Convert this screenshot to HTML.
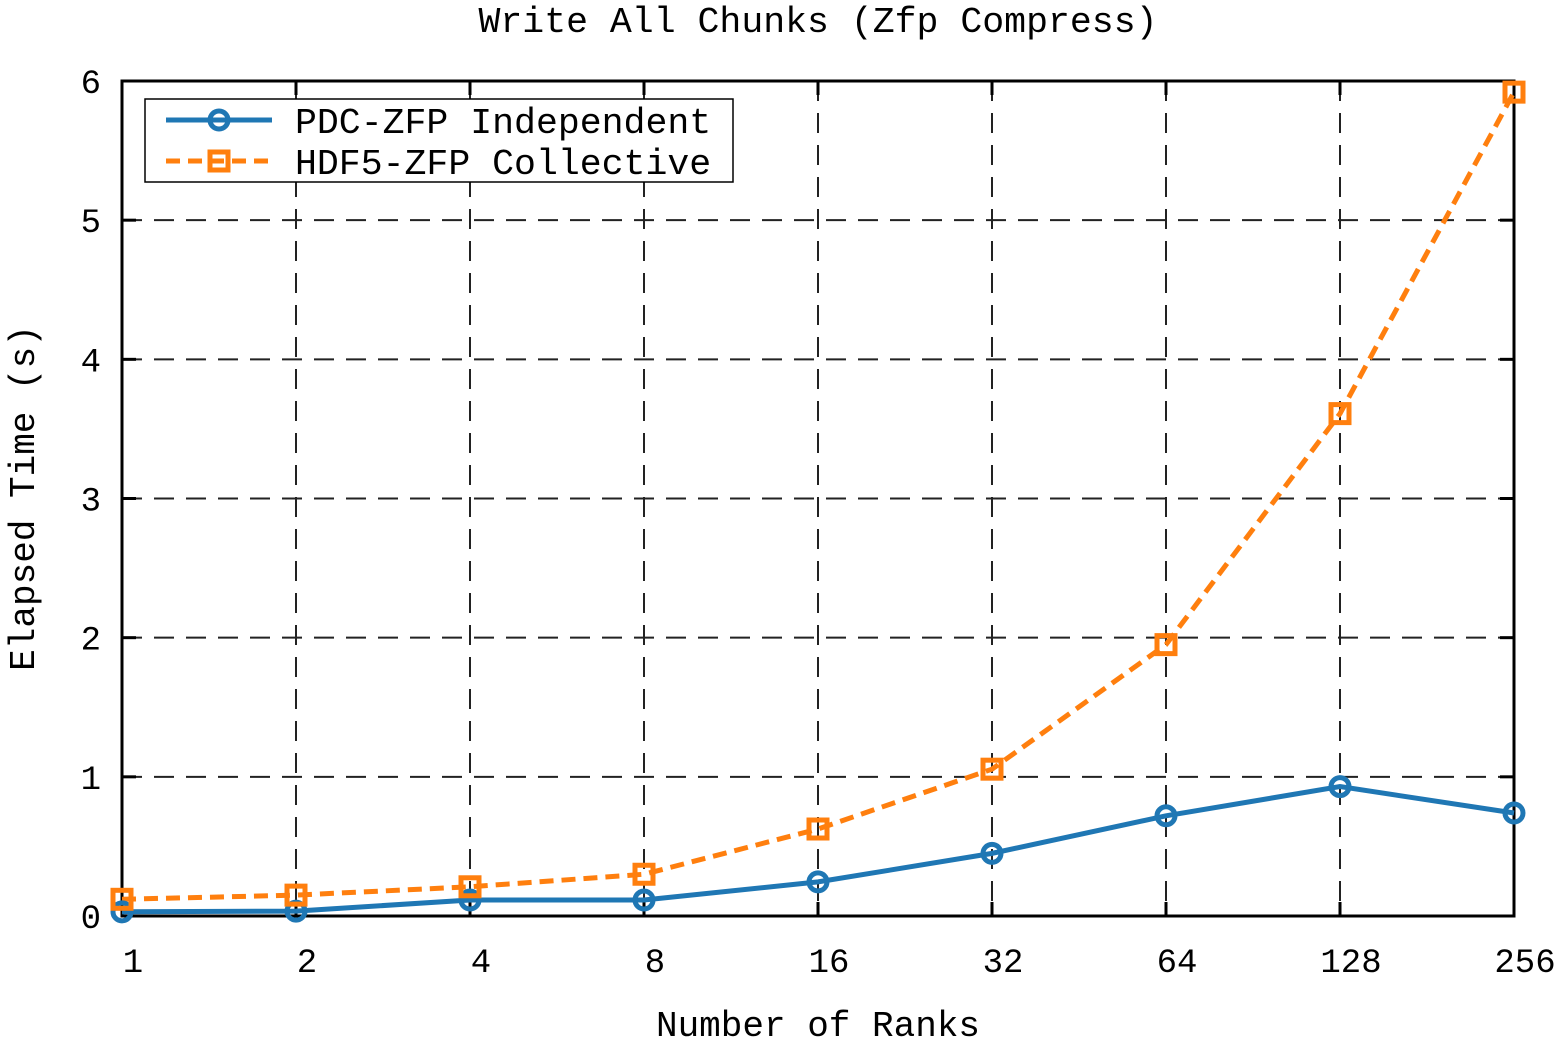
<!DOCTYPE html>
<html><head><meta charset="utf-8"><style>
body{margin:0;background:#fff;}
text{font-family:"Liberation Mono",monospace;fill:#000;}
</style></head><body>
<svg width="1561" height="1040" xmlns="http://www.w3.org/2000/svg">
<g id="grid"></g>
<g id="axes"></g>
<g id="series"></g>
<text x="818" y="32" font-size="36.5" text-anchor="middle">Write All Chunks (Zfp Compress)</text>
<text x="818" y="1036" font-size="36" text-anchor="middle">Number of Ranks</text>
<text transform="translate(34,498) rotate(-90)" font-size="36" text-anchor="middle">Elapsed Time (s)</text>
<g>
<rect x="145" y="99" width="588" height="83" fill="#fff" stroke="#000" stroke-width="1.5"/>
<g>
<line x1="166" y1="120" x2="272" y2="120" stroke="#1f77b4" stroke-width="5"/>
<circle cx="219" cy="120" r="9" fill="none" stroke="#1f77b4" stroke-width="5"/>
<text x="295" y="133" font-size="36.5">PDC-ZFP Independent</text></g>
<g>
<line x1="166" y1="161" x2="272" y2="161" stroke="#ff7f0e" stroke-width="5" stroke-dasharray="14,8"/>
<rect x="210" y="152" width="18" height="18" fill="none" stroke="#ff7f0e" stroke-width="5"/>
<text x="295" y="174" font-size="36.5">HDF5-ZFP Collective</text></g>
</g>
</svg>
<script>
const categories=["1","2","4","8","16","32","64","128","256"];
const pdcValues=[0.03,0.035,0.115,0.115,0.245,0.45,0.72,0.93,0.74];
const hdf5Values=[0.12,0.15,0.21,0.30,0.625,1.055,1.95,3.61,5.92];
const yTicks=[0,1,2,3,4,5,6];
const L=122,R=1514,T=81,B=916;
const xs=i=>L+i*(R-L)/(categories.length-1);
const ys=v=>B-v*(B-T)/6;
const NS="http://www.w3.org/2000/svg";
function mk(p,t,a){const e=document.createElementNS(NS,t);for(const k in a)e.setAttribute(k,a[k]);p.appendChild(e);return e;}
const grid=document.getElementById('grid'),axes=document.getElementById('axes'),ser=document.getElementById('series');
categories.forEach((c,i)=>{
 const x=xs(i);
 if(i>0&&i<categories.length-1){const g=mk(grid,'line',{x1:x,y1:T,x2:x,y2:B,stroke:'#222','stroke-width':2,'stroke-dasharray':'20,12'});
 
 }
 const t=mk(axes,'text',{x:x+11,y:972,'font-size':34,'text-anchor':'middle'});t.textContent=c;
 
 
 mk(axes,'line',{x1:x,y1:B,x2:x,y2:B-14,stroke:'#000','stroke-width':3});
 mk(axes,'line',{x1:x,y1:T,x2:x,y2:T+14,stroke:'#000','stroke-width':3});
});
yTicks.forEach(v=>{
 const y=ys(v);
 if(v>0&&v<6){const g=mk(grid,'line',{x1:L,y1:y,x2:R,y2:y,stroke:'#222','stroke-width':2,'stroke-dasharray':'20,12'});
 
 }
 const t=mk(axes,'text',{x:101,y:y+12,'font-size':34,'text-anchor':'end'});t.textContent=v;
 
 
 mk(axes,'line',{x1:L,y1:y,x2:L+14,y2:y,stroke:'#000','stroke-width':3});
 mk(axes,'line',{x1:R,y1:y,x2:R-14,y2:y,stroke:'#000','stroke-width':3});
});
const fr=mk(axes,'rect',{x:L,y:T,width:R-L,height:B-T,fill:'none',stroke:'#000','stroke-width':3});


const p1=mk(ser,'polyline',{points:pdcValues.map((v,i)=>xs(i)+','+ys(v)).join(' '),fill:'none',stroke:'#1f77b4','stroke-width':5});


const p2=mk(ser,'polyline',{points:hdf5Values.map((v,i)=>xs(i)+','+ys(v)).join(' '),fill:'none',stroke:'#ff7f0e','stroke-width':5,'stroke-dasharray':'14,8'});


pdcValues.forEach((v,i)=>{const c=mk(ser,'circle',{cx:xs(i),cy:ys(v),r:9,fill:'none',stroke:'#1f77b4','stroke-width':5});
 
 });
hdf5Values.forEach((v,i)=>{const r=mk(ser,'rect',{x:xs(i)-9,y:ys(v)-9,width:18,height:18,fill:'none',stroke:'#ff7f0e','stroke-width':5});
 
 });
</script>
</body></html>
